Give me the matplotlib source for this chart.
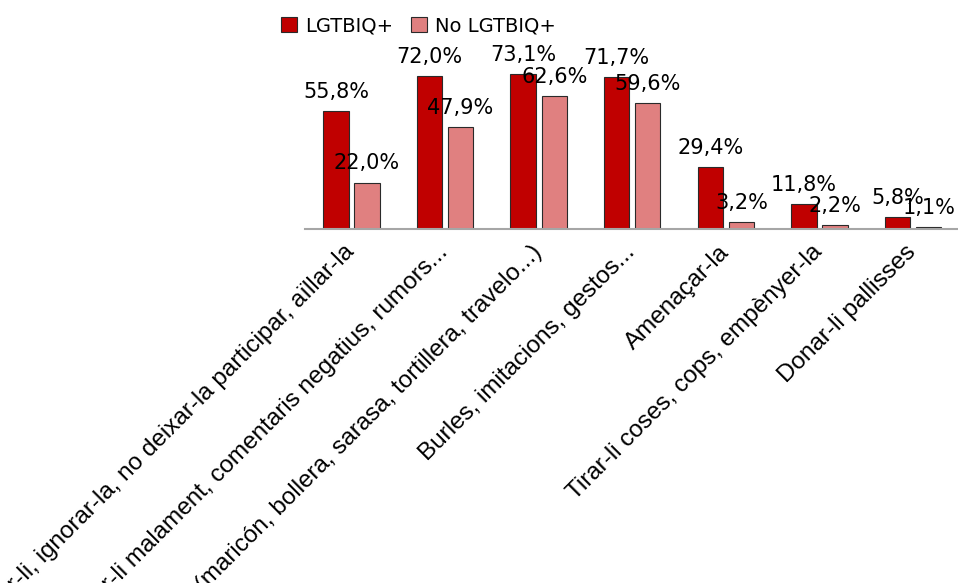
import matplotlib.pyplot as plt
import matplotlib.transforms as mtransforms
import numpy as np

categories = [
    'No parlar-li, ignorar-la, no deixar-la participar, aïllar-la',
    'Parlar-li malament, comentaris negatius, rumors...',
    'Insults (maricón, bollera, sarasa, tortillera, travelo...)',
    'Burles, imitacions, gestos...',
    'Amenaçar-la',
    'Tirar-li coses, cops, empènyer-la',
    'Donar-li pallisses',
]
lgtbiq = [55.8, 72.0, 73.1, 71.7, 29.4, 11.8, 5.8]
no_lgtbiq = [22.0, 47.9, 62.6, 59.6, 3.2, 2.2, 1.1]
series_names = ['LGTBIQ+', 'No LGTBIQ+']

fig = plt.figure(figsize=(9.58, 5.83), dpi=100)
ax = fig.add_axes([0.318, 0.6067, 0.684, 0.2918])

x = np.arange(len(categories))
w = 0.27
off = 0.166

b1 = ax.bar(x - off, lgtbiq, w, color='#C00000', edgecolor='#2a2a2a', linewidth=0.8,
            label=series_names[0])
b2 = ax.bar(x + off, no_lgtbiq, w, color='#E08080', edgecolor='#2a2a2a', linewidth=0.8,
            label=series_names[1])

for bars, vals in [(b1, lgtbiq), (b2, no_lgtbiq)]:
    for r, v in zip(bars, vals):
        ax.annotate(f'{v:.1f}%'.replace('.', ','),
                    (r.get_x() + r.get_width() / 2, v),
                    xytext=(0, 6.5), textcoords='offset points',
                    ha='center', va='bottom', fontsize=15, color='black',
                    family='DejaVu Sans', annotation_clip=False)

ax.set_xlim(-0.5, len(categories) - 0.5)
ax.set_ylim(0, 80)
ax.set_yticks([])
for s in ['top', 'right', 'left']:
    ax.spines[s].set_visible(False)
ax.spines['bottom'].set_color('#A6A6A6')
ax.spines['bottom'].set_linewidth(1.5)

ax.set_xticks(x)
ax.set_xticklabels(categories, rotation=45, ha='right', va='top',
                   rotation_mode='anchor', fontsize=17.5, family='Liberation Sans')
ax.tick_params(axis='x', length=0, pad=10)
# nudge the slanted labels a little to the left
shift = mtransforms.ScaledTranslation(-0.08, 0.02, fig.dpi_scale_trans)
for lab in ax.get_xticklabels():
    lab.set_transform(lab.get_transform() + shift)

fig.legend(handles=[b1, b2], loc='center', bbox_to_anchor=(0.437, 1 - 26 / 583),
           ncol=2, frameon=False, fontsize=14, handlelength=0.82, handleheight=0.82,
           handletextpad=0.41, columnspacing=0.92, borderaxespad=0, borderpad=0)

fig.savefig('out.png', dpi=100)
